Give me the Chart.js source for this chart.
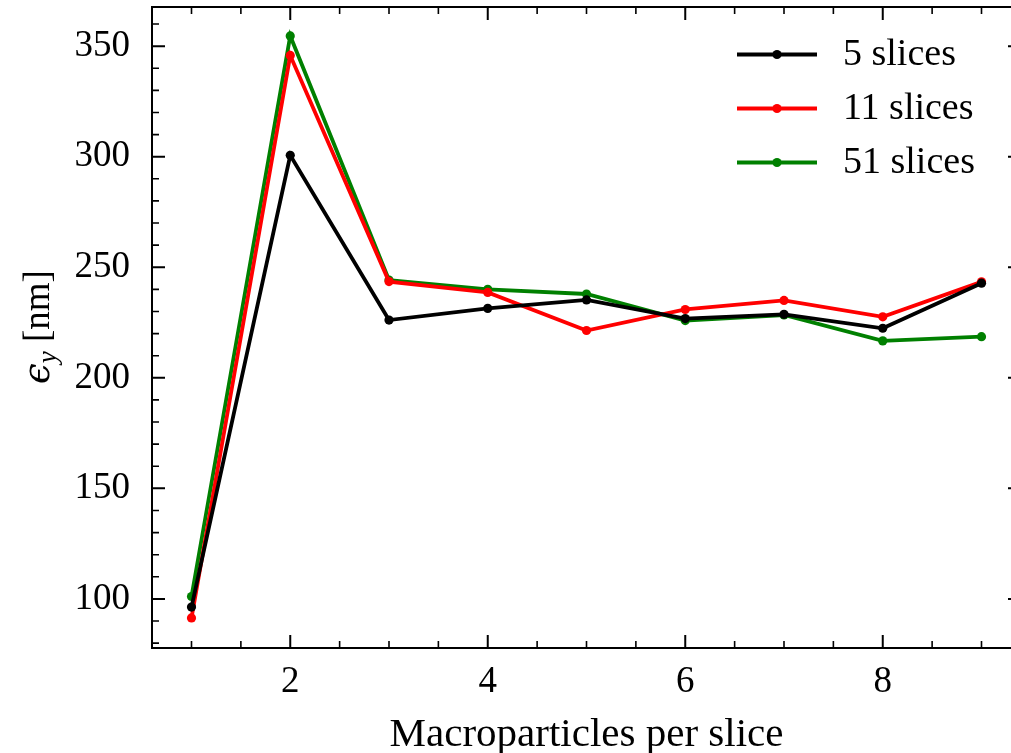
<!DOCTYPE html>
<html>
<head>
<meta charset="utf-8">
<script src="https://cdn.jsdelivr.net/npm/chart.js@4.4.1/dist/chart.umd.min.js"></script>
<style>
  html, body { margin: 0; padding: 0; background: #ffffff; overflow: hidden; }
  #wrap { position: absolute; left: 0; top: 0; width: 1030px; height: 753px; }
</style>
</head>
<body>
<div id="wrap"><canvas id="chart" width="1030" height="753"></canvas></div>
<script>
// Macroparticles per slice (x) and vertical emittance (nm) for each slicing
const macroparticles = [1, 2, 3, 4, 5, 6, 7, 8, 9];
const slices5  = [96.3, 300.6, 226.1, 231.4, 235.2, 226.8, 228.7, 222.4, 242.8];
const slices11 = [91.4, 345.8, 243.5, 238.6, 221.4, 230.9, 235.0, 227.6, 243.4];
const slices51 = [101.1, 354.6, 244.2, 240.0, 237.9, 225.9, 228.4, 216.7, 218.6];

const seriesNames  = ['5 slices', '11 slices', '51 slices'];
const seriesColors = ['#000000', '#ff0000', '#008000'];

const xMajorTicks = [2, 4, 6, 8];
const yMajorTicks = [100, 150, 200, 250, 300, 350];

const X_MIN = 0.6, X_MAX = 9.4;
const Y_MIN = 77.8, Y_MAX = 367.7;

const FONT = '"Liberation Serif", "DejaVu Serif", serif';
const FONT_SIZE = 37;

function toPoints(values) {
  return values.map((v, i) => ({ x: macroparticles[i], y: v }));
}

// Frame on all four sides with inward major/minor ticks
const framePlugin = {
  id: 'frame',
  afterDatasetsDraw(chart) {
    const { ctx, chartArea: a, scales } = chart;
    const xs = scales.x, ys = scales.y;
    const majLen = 13, minLen = 7;
    ctx.save();
    ctx.strokeStyle = '#000';
    ctx.lineCap = 'butt';

    // x ticks: major every 2, minor every 0.5
    for (let v = 0.5; v <= X_MAX + 1e-9; v += 0.5) {
      if (v < X_MIN) continue;
      const major = xMajorTicks.includes(v);
      const px = xs.getPixelForValue(v);
      const len = major ? majLen : minLen;
      ctx.lineWidth = major ? 2 : 1.6;
      ctx.beginPath();
      ctx.moveTo(px, a.bottom); ctx.lineTo(px, a.bottom - len);
      ctx.moveTo(px, a.top);    ctx.lineTo(px, a.top + len);
      ctx.stroke();
    }
    // y ticks: major every 50, minor every 10
    for (let v = 80; v <= Y_MAX; v += 10) {
      const major = yMajorTicks.includes(v);
      const py = ys.getPixelForValue(v);
      const len = major ? majLen : minLen;
      ctx.lineWidth = major ? 2 : 1.6;
      ctx.beginPath();
      ctx.moveTo(a.left, py);  ctx.lineTo(a.left + len, py);
      ctx.moveTo(a.right, py); ctx.lineTo(a.right - len, py);
      ctx.stroke();
    }
    // spines
    ctx.lineWidth = 2;
    ctx.strokeRect(a.left, a.top, a.right - a.left, a.bottom - a.top);
    ctx.restore();
  }
};

// Legend with a line-and-marker handle per series
const legendPlugin = {
  id: 'lineLegend',
  afterDatasetsDraw(chart) {
    const { ctx } = chart;
    const x0 = 737, x1 = 817, tx = 843;
    const rows = [54.5, 108.5, 162.5];
    ctx.save();
    chart.data.datasets.forEach((ds, i) => {
      const y = rows[i];
      ctx.strokeStyle = ds.borderColor;
      ctx.lineWidth = 3.8;
      ctx.beginPath(); ctx.moveTo(x0, y); ctx.lineTo(x1, y); ctx.stroke();
      ctx.fillStyle = ds.borderColor;
      ctx.beginPath(); ctx.arc((x0 + x1) / 2, y, 4.6, 0, Math.PI * 2); ctx.fill();
      ctx.fillStyle = '#000';
      ctx.font = '38px ' + FONT;
      ctx.textBaseline = 'middle';
      ctx.textAlign = 'left';
      ctx.fillText(ds.label, tx, y + 1);
    });
    ctx.restore();
  }
};

// Rotated y-axis title with a subscript
const yTitlePlugin = {
  id: 'yTitle',
  afterDraw(chart) {
    const { ctx } = chart;
    const cx = 37, cy = 327;
    const mainFont = FONT_SIZE + 'px ' + FONT;
    const epsFont = 'italic ' + FONT_SIZE + 'px "DejaVu Serif", serif';
    const subFont = 'italic ' + Math.round(FONT_SIZE * 0.72) + 'px ' + FONT;
    const parts = [
      { t: '\u03F5', f: epsFont, dy: 0 },
      { t: 'y', f: subFont, dy: 7 },
      { t: ' [nm]', f: mainFont, dy: 0 }
    ];
    ctx.save();
    ctx.fillStyle = '#000';
    ctx.textBaseline = 'alphabetic';
    let total = 0;
    parts.forEach(p => { ctx.font = p.f; p.w = ctx.measureText(p.t).width; total += p.w; });
    ctx.translate(cx, cy);
    ctx.rotate(-Math.PI / 2);
    let x = -total / 2;
    const base = 12;
    parts.forEach(p => { ctx.font = p.f; ctx.fillText(p.t, x, base + p.dy); x += p.w; });
    ctx.restore();
  }
};

new Chart(document.getElementById('chart'), {
  type: 'line',
  data: {
    datasets: [slices5, slices11, slices51].map((vals, i) => ({
      label: seriesNames[i],
      data: toPoints(vals),
      borderColor: seriesColors[i],
      backgroundColor: seriesColors[i],
      borderWidth: 3.8,
      pointRadius: 4.6,
      pointHoverRadius: 4.6,
      pointBorderWidth: 0,
      tension: 0,
      fill: false
    }))
  },
  options: {
    responsive: false,
    animation: false,
    events: [],
    layout: { padding: { left: 0, top: 7, right: 9, bottom: 0 } },
    plugins: { legend: { display: false }, tooltip: { enabled: false } },
    scales: {
      x: {
        type: 'linear',
        min: X_MIN, max: X_MAX,
        grid: { display: false, drawTicks: false },
        border: { display: false },
        afterBuildTicks: s => { s.ticks = xMajorTicks.map(v => ({ value: v })); },
        afterFit: s => { s.height = 105; s.paddingLeft = 0; s.paddingRight = 0; },
        ticks: {
          color: '#000', padding: 12, maxRotation: 0,
          font: { family: FONT, size: FONT_SIZE },
          callback: v => String(v)
        },
        title: {
          display: true, text: 'Macroparticles per slice', color: '#000',
          font: { family: FONT, size: 41, lineHeight: 0.85 }, padding: { top: 0, bottom: 0 }
        }
      },
      y: {
        type: 'linear',
        min: Y_MIN, max: Y_MAX,
        grid: { display: false, drawTicks: false },
        border: { display: false },
        afterBuildTicks: s => { s.ticks = yMajorTicks.map(v => ({ value: v })); },
        afterFit: s => { s.width = 152; s.paddingTop = 0; s.paddingBottom = 0; },
        ticks: {
          color: '#000', padding: 22,
          font: { family: FONT, size: FONT_SIZE },
          callback: v => String(v)
        }
      }
    }
  },
  plugins: [framePlugin, legendPlugin, yTitlePlugin]
});
</script>
</body>
</html>
